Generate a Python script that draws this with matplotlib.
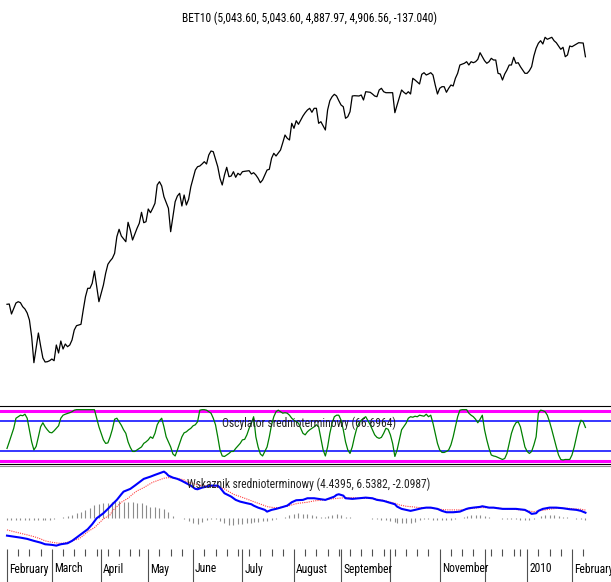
import numpy as np
import pandas as pd
import matplotlib
matplotlib.use("Agg")
import matplotlib.pyplot as plt
from matplotlib import font_manager

# ---------------- data: (trading session number from 2 Feb 2009, value) ----------------
first_session = "2009-02-02"
exchange_holidays = ["2009-04-20", "2009-05-01", "2009-11-30", "2009-12-01",
                     "2009-12-24", "2009-12-25", "2009-12-31", "2010-01-01"]
n_sessions = 259

price_points = [
    (0, 2431), (1, 2434), (2, 2334), (4, 2444), (5, 2457), (6, 2447), (7, 2407), (8, 2384), (9, 2344), (10, 2274),
    (11, 2107), (12, 1847), (13, 1994), (14, 2144), (15, 2014), (16, 1894), (17, 1854), (18, 1857), (19, 1867), (20, 1884),
    (21, 1867), (22, 2024), (23, 1944), (24, 2064), (25, 1984), (26, 2034), (27, 2007), (28, 2024), (29, 2074), (30, 2174),
    (31, 2217), (33, 2231), (34, 2374), (35, 2507), (36, 2591), (37, 2591), (38, 2641), (39, 2764), (40, 2607), (41, 2457),
    (43, 2624), (44, 2741), (45, 2831), (46, 2864), (47, 2891), (48, 2941), (49, 3107), (50, 3181), (51, 3114), (53, 3057),
    (54, 3251), (55, 3174), (56, 3074), (57, 3134), (58, 3191), (59, 3241), (60, 3351), (61, 3247), (62, 3257), (63, 3384),
    (64, 3347), (65, 3391), (66, 3441), (67, 3624), (68, 3657), (69, 3614), (70, 3507), (72, 3391), (73, 3157), (74, 3307),
    (75, 3457), (76, 3514), (77, 3541), (78, 3414), (79, 3524), (80, 3424), (81, 3481), (82, 3607), (84, 3774), (85, 3807),
    (86, 3814), (87, 3834), (88, 3857), (89, 3834), (90, 3924), (91, 3964), (92, 3957), (94, 3807), (95, 3691), (96, 3624),
    (97, 3724), (98, 3801), (99, 3707), (100, 3714), (101, 3757), (102, 3701), (103, 3741), (104, 3724), (105, 3757), (106, 3761),
    (108, 3767), (109, 3734), (110, 3747), (111, 3724), (112, 3691), (113, 3647), (114, 3674), (115, 3724), (116, 3774), (117, 3781),
    (118, 3891), (119, 3941), (120, 3914), (122, 3974), (123, 4047), (124, 4124), (125, 4091), (126, 4074), (127, 4241), (128, 4191),
    (129, 4267), (130, 4231), (132, 4314), (133, 4347), (134, 4374), (135, 4391), (136, 4351), (137, 4391), (138, 4391), (139, 4241),
    (140, 4257), (142, 4174), (143, 4374), (144, 4467), (145, 4507), (146, 4531), (147, 4514), (148, 4467), (149, 4424), (150, 4407),
    (151, 4291), (152, 4307), (153, 4357), (154, 4514), (155, 4517), (157, 4514), (158, 4524), (159, 4474), (160, 4557), (162, 4551),
    (163, 4534), (164, 4514), (165, 4507), (166, 4574), (167, 4591), (168, 4557), (169, 4547), (170, 4547), (172, 4547), (173, 4347),
    (174, 4424), (176, 4574), (177, 4551), (178, 4534), (179, 4557), (180, 4534), (181, 4691), (182, 4674), (184, 4634), (185, 4731),
    (186, 4747), (187, 4724), (188, 4734), (189, 4747), (190, 4724), (191, 4624), (192, 4534), (193, 4591), (194, 4607), (195, 4607),
    (196, 4551), (197, 4591), (198, 4624), (199, 4614), (200, 4691), (201, 4741), (202, 4824), (204, 4841), (205, 4857), (206, 4824),
    (207, 4857), (208, 4847), (209, 4857), (210, 4881), (211, 4947), (212, 4907), (213, 4867), (214, 4841), (215, 4857), (216, 4891),
    (217, 4874), (218, 4874), (219, 4741), (220, 4734), (221, 4674), (222, 4734), (223, 4774), (224, 4824), (225, 4824), (226, 4901),
    (227, 4841), (228, 4847), (229, 4807), (231, 4741), (232, 4741), (233, 4767), (234, 4807), (235, 4914), (236, 4991), (237, 5041),
    (238, 5067), (239, 5034), (240, 5101), (241, 5081), (243, 5101), (244, 5067), (245, 5047), (246, 5014), (247, 4981), (248, 5001),
    (249, 4907), (250, 4924), (251, 5014), (252, 5007), (254, 5034), (255, 5047), (257, 5043.60), (258, 4906.56),
]

osc_points = [
    (0, 25), (1, 38), (3, 65), (4, 85), (6, 91), (7, 90), (8, 93), (9, 85), (10, 62), (11, 38),
    (12, 22), (13, 29), (14, 48), (15, 68), (16, 76), (17, 68), (18, 62), (19, 57), (20, 56), (21, 60),
    (22, 65), (23, 70), (24, 85), (25, 91), (26, 93), (28, 96), (29, 98), (30, 101), (31, 102), (33, 102),
    (34, 102), (36, 102), (37, 102), (39, 102), (40, 85), (41, 68), (42, 55), (43, 42), (44, 35), (45, 36),
    (46, 48), (47, 63), (48, 83), (49, 85), (50, 78), (51, 71), (52, 62), (53, 55), (54, 38), (55, 27),
    (56, 19), (57, 19), (58, 22), (59, 25), (60, 28), (61, 35), (62, 38), (63, 42), (64, 48), (65, 45),
    (66, 55), (67, 72), (68, 80), (69, 85), (70, 68), (71, 48), (73, 28), (74, 14), (75, 10), (76, 22),
    (77, 35), (78, 48), (79, 56), (80, 58), (81, 62), (82, 65), (83, 70), (84, 72), (85, 78), (86, 101),
    (87, 102), (88, 102), (89, 101), (90, 98), (91, 95), (92, 85), (93, 72), (94, 48), (95, 22), (96, 10),
    (97, 9), (98, 12), (99, 15), (100, 19), (101, 19), (102, 25), (103, 30), (104, 35), (105, 42), (106, 43),
    (107, 52), (108, 65), (109, 75), (110, 88), (111, 48), (112, 28), (113, 14), (114, 10), (116, 28), (117, 48),
    (118, 72), (119, 88), (120, 98), (121, 101), (122, 98), (123, 95), (124, 96), (125, 95), (126, 91), (127, 85),
    (128, 81), (129, 78), (130, 75), (131, 65), (132, 55), (133, 52), (134, 58), (135, 62), (137, 68), (138, 72),
    (139, 68), (140, 45), (141, 22), (142, 10), (143, 28), (144, 55), (145, 75), (146, 88), (147, 91), (148, 91),
    (149, 81), (150, 62), (151, 38), (152, 22), (153, 15), (154, 28), (155, 48), (156, 65), (157, 75), (158, 81),
    (159, 85), (160, 88), (162, 72), (163, 62), (164, 52), (165, 47), (166, 45), (167, 47), (168, 55), (169, 65),
    (170, 63), (171, 52), (172, 35), (173, 9), (174, 22), (175, 42), (176, 62), (178, 75), (179, 85), (180, 88),
    (181, 87), (182, 89), (183, 88), (184, 91), (186, 89), (187, 93), (188, 88), (189, 91), (190, 75), (191, 55),
    (192, 35), (193, 22), (194, 17), (195, 17), (196, 19), (197, 22), (198, 32), (199, 48), (200, 68), (201, 88),
    (202, 101), (203, 102), (205, 102), (206, 95), (207, 91), (208, 88), (209, 83), (210, 76), (211, 83), (212, 91),
    (213, 62), (214, 42), (215, 25), (216, 12), (217, 10), (218, 9), (219, 7), (220, 5), (221, 3), (222, 5),
    (223, 15), (224, 35), (225, 55), (226, 68), (227, 76), (228, 78), (229, 68), (230, 48), (231, 28), (232, 19),
    (233, 15), (234, 19), (235, 32), (236, 48), (237, 95), (238, 101), (239, 100), (240, 98), (241, 91), (242, 78),
    (243, 62), (244, 45), (245, 28), (246, 12), (247, 3), (248, 2), (249, 3), (251, 3), (252, 12), (253, 28),
    (254, 48), (255, 68), (256, 81), (257, 78), (258, 66.6964),
]

macd_points = [
    (0, -13.9), (3, -14.7), (6, -15.5), (9, -16.5), (12, -18.1), (15, -19.5), (17, -20.8), (20, -21.3), (22, -21.9), (24, -20.8),
    (27, -20.0), (29, -18.1), (31, -15.5), (33, -12.8), (36, -8.8), (38, -4.8), (40, 0.0), (43, 4.0), (45, 7.5), (47, 11.2),
    (49, 14.7), (51, 19.2), (52, 21.3), (55, 23.5), (57, 26.1), (59, 28.8), (61, 31.5), (64, 33.3), (66, 34.7), (68, 36.0),
    (70, 37.3), (71, 36.0), (72, 34.1), (74, 32.5), (76, 31.5), (78, 29.9), (80, 28.0), (82, 26.1), (84, 23.5), (85, 23.2),
    (87, 24.5), (89, 25.3), (91, 26.1), (94, 26.1), (95, 24.5), (97, 20.0), (100, 17.3), (102, 14.7), (104, 13.3), (107, 12.0),
    (109, 11.2), (110, 10.1), (112, 8.5), (115, 6.7), (116, 5.3), (118, 6.7), (120, 7.5), (122, 8.5), (125, 10.1), (127, 12.8),
    (129, 14.4), (132, 14.7), (134, 16.0), (137, 16.0), (140, 15.2), (142, 14.7), (144, 16.0), (146, 17.3), (147, 18.7), (148, 19.2),
    (150, 18.1), (151, 16.0), (154, 15.5), (157, 16.0), (160, 16.5), (163, 16.0), (165, 14.7), (168, 13.9), (170, 12.8), (173, 11.2),
    (174, 9.3), (176, 7.5), (178, 6.7), (180, 5.9), (182, 6.7), (185, 8.0), (187, 8.5), (189, 8.5), (192, 7.5), (194, 5.9),
    (196, 4.8), (199, 4.8), (202, 5.3), (205, 7.5), (206, 8.0), (208, 8.5), (211, 9.1), (212, 9.6), (215, 8.5), (217, 8.5),
    (219, 8.0), (221, 7.5), (224, 7.5), (227, 7.5), (231, 6.7), (233, 4.8), (234, 3.5), (236, 4.0), (237, 5.9), (239, 7.5),
    (242, 8.5), (245, 8.5), (248, 8.0), (251, 7.2), (254, 6.7), (256, 5.9), (258, 4.4395),
]

signal_points = [
    (0, -9.3), (3, -10.7), (6, -12.0), (9, -13.3), (12, -14.7), (15, -16.5), (17, -18.1), (20, -19.2), (23, -20.0), (25, -20.0),
    (27, -19.2), (29, -18.1), (32, -16.5), (34, -13.9), (36, -10.7), (39, -7.5), (41, -4.0), (43, -0.5), (46, 2.7), (47, 5.9),
    (49, 9.3), (51, 12.8), (54, 16.0), (56, 19.2), (58, 21.9), (61, 24.5), (63, 26.7), (65, 28.8), (68, 30.7), (70, 32.0),
    (72, 32.5), (75, 32.0), (77, 31.5), (79, 30.7), (80, 29.3), (83, 28.0), (85, 26.7), (87, 26.1), (90, 25.9), (92, 25.3),
    (94, 25.3), (97, 23.5), (99, 21.3), (101, 19.2), (104, 17.3), (106, 16.0), (108, 14.7), (110, 13.3), (112, 12.0), (114, 10.7),
    (116, 9.3), (119, 8.5), (121, 8.5), (123, 9.1), (126, 10.1), (128, 11.2), (130, 12.0), (134, 12.8), (137, 13.9), (140, 14.4),
    (142, 14.9), (145, 15.5), (148, 16.0), (151, 16.5), (154, 16.5), (157, 16.0), (160, 16.0), (164, 15.5), (167, 14.7), (170, 13.3),
    (173, 12.0), (175, 10.7), (178, 9.6), (181, 9.1), (184, 8.5), (187, 8.5), (190, 8.0), (193, 7.2), (196, 6.7), (199, 6.7),
    (202, 6.7), (205, 7.2), (208, 8.0), (211, 8.5), (214, 8.5), (217, 8.5), (220, 8.0), (223, 7.5), (226, 7.2), (229, 6.7),
    (232, 5.9), (235, 5.3), (237, 5.9), (240, 6.7), (243, 7.5), (246, 8.0), (250, 8.0), (253, 7.5), (256, 7.2), (258, 6.5382),
]

hist_points = [
    (0, -1.6), (2, -1.6), (4, -1.6), (6, -1.6), (8, -1.6), (10, -1.6), (12, -1.6), (14, -1.6), (16, -1.6), (17, -1.6),
    (19, -1.6), (21, -0.5), (23, 0.0), (25, 0.8), (27, 1.6), (29, 2.7), (31, 4.0), (33, 5.3), (35, 6.7), (37, 8.5),
    (39, 10.7), (41, 11.5), (43, 12.0), (45, 12.5), (47, 13.3), (48, 13.9), (50, 13.9), (52, 13.3), (54, 13.3), (56, 12.8),
    (58, 12.5), (60, 12.0), (62, 10.7), (64, 9.3), (66, 8.8), (68, 8.0), (70, 7.5), (72, 4.8), (74, 2.1), (76, 0.5),
    (78, 0.0), (79, -0.8), (81, -2.1), (83, -4.0), (85, -4.8), (87, -2.7), (89, -1.3), (91, -0.8), (93, -0.5), (95, -2.1),
    (97, -4.0), (99, -5.3), (101, -5.3), (103, -4.8), (105, -4.3), (107, -4.0), (109, -3.5), (110, -3.2), (112, -2.7), (114, -2.1),
    (116, -2.1), (118, -1.3), (120, -0.5), (122, 0.5), (124, 1.3), (126, 2.7), (128, 3.5), (130, 4.0), (132, 3.7), (134, 3.2),
    (136, 2.9), (138, 2.1), (140, 1.3), (142, 1.3), (143, 1.6), (145, 2.7), (147, 3.2), (149, 2.7), (151, 1.3), (153, 0.8),
    (155, 0.5), (157, 0.5), (159, 0.5), (161, 0.3), (163, -0.5), (165, -0.8), (167, -1.3), (169, -1.6), (171, -2.1), (173, -2.7),
    (174, -3.5), (176, -3.7), (178, -3.7), (180, -3.5), (182, -2.7), (184, -1.3), (186, -0.8), (188, -0.8), (190, -1.1), (192, -1.3),
    (194, -1.6), (196, -1.3), (198, -1.1), (200, -0.5), (202, 0.0), (204, 0.8), (205, 2.1), (207, 2.7), (209, 2.7), (211, 2.4),
    (213, 1.6), (215, 0.8), (217, 0.5), (219, 0.3), (221, -0.5), (223, -0.5), (225, -0.8), (227, -0.8), (229, -1.1), (231, -1.3),
    (233, -1.6), (235, -0.8), (236, 0.5), (238, 1.6), (240, 2.4), (242, 2.7), (244, 2.7), (246, 2.1), (248, 1.3), (250, 0.8),
    (252, 0.3), (254, -0.5), (256, -0.8), (258, -1.0),
]

month_labels = ["February", "March", "April", "May", "June", "July", "August",
                "September", "", "November", "", "2010", "February"]

title_text = "BET10 (5,043.60, 5,043.60, 4,887.97, 4,906.56, -137.040)"
osc_text = "Oscylator srednioterminowy (66.6964)"
macd_text = "Wskaznik srednioterminowy (4.4395, 6.5382, -2.0987)"

price_s, price_v = zip(*price_points)
osc_s, osc_v = zip(*osc_points)
macd_s, macd_v = zip(*macd_points)
signal_s, signal_v = zip(*signal_points)
hist_s, hist_v = zip(*hist_points)

# ---------------- session calendar ----------------
days = pd.bdate_range(first_session, "2010-03-31")
days = days[~days.isin(pd.to_datetime(exchange_holidays))][:n_sessions]
month_idx = [i for i in range(n_sessions) if i == 0 or days[i].month != days[i - 1].month]
week_idx = [i for i in range(1, n_sessions)
            if days[i].isocalendar()[1] != days[i - 1].isocalendar()[1] and i not in month_idx]

# ---------------- font ----------------
def pick_font():
    names = {f.name for f in font_manager.fontManager.ttflist}
    for n in ["Liberation Sans Narrow", "Arial Narrow", "Roboto Condensed"]:
        if n in names:
            return font_manager.FontProperties(family=n)
    for f in font_manager.fontManager.ttflist:
        if "Sans" in f.name and "condensed" in str(f.stretch) and f.style == "normal" \
                and str(f.weight) in ("400", "normal"):
            return font_manager.FontProperties(fname=f.fname)
    return font_manager.FontProperties(family="Liberation Sans")


FP = pick_font()

W, H = 611.0, 582.0
fig = plt.figure(figsize=(W / 100, H / 100), dpi=100)


def rect(top, bottom):
    return [0.0, (H - bottom) / H, 1.0, (bottom - top) / H]


K = 2.242
X0 = 7.0
XLIM = (-X0 / K, (W - X0) / K)


def clean(ax):
    ax.set_xlim(XLIM)
    ax.set_xticks([])
    ax.set_yticks([])
    for sp in ax.spines.values():
        sp.set_visible(False)
    ax.patch.set_alpha(0)


# fit the font size so the title has the width seen in the chart
probe = fig.text(0, 0, title_text, fontproperties=FP.copy())
probe.set_fontsize(10)
fig.canvas.draw()
w10 = probe.get_window_extent(fig.canvas.get_renderer()).width
probe.remove()
FS = 10 * 256.0 / w10


def fp():
    p = FP.copy()
    p.set_size(FS)
    return p


# price panel
axp = fig.add_axes(rect(25, 400))
clean(axp)
axp.set_ylim(1474, 5224)
axp.plot(price_s, price_v, color="black", lw=0.9)
fig.text(309.5 / W, 1 - 18 / H, title_text, ha="center", va="center", fontproperties=fp(), color="black")

# oscillator panel
axo = fig.add_axes(rect(406, 464))
clean(axo)
axo.set_ylim(-5.96, 109.3)
for lvl in (100, 0):
    axo.axhline(lvl, color="#ff00ff", lw=2.2, zorder=1)
for lvl in (80, 20):
    axo.axhline(lvl, color="#0000ff", lw=1.1, zorder=1)
for side in ("top", "bottom"):
    axo.spines[side].set_visible(True)
    axo.spines[side].set_linewidth(0.8)
axo.plot(osc_s, osc_v, color="#008000", lw=0.9, zorder=3)
axo.text(308.5 / W, 1 - (423 - 406) / 58.0, osc_text, transform=axo.transAxes, ha="center",
         va="center", fontproperties=fp(), zorder=4, color="#222222")

# MACD panel
axm = fig.add_axes(rect(466, 548))
clean(axm)
axm.set_ylim(-23.8, 41.8)
axm.spines["top"].set_visible(True)
axm.spines["top"].set_color("#909090")
axm.spines["top"].set_linewidth(0.8)
axm.vlines(hist_s, 0, hist_v, color="#8c8c8c", lw=0.8, zorder=1)
axm.plot(signal_s, signal_v, color="#ff4040", lw=0.8, ls=(0, (1, 1)), zorder=2)
axm.plot(macd_s, macd_v, color="#0000ff", lw=1.5, zorder=3)
axm.text(308.3 / W, 1 - (484 - 466) / 82.0, macd_text, transform=axm.transAxes, ha="center",
         va="center", fontproperties=fp(), zorder=4, color="#222222")

# date axis
axd = fig.add_axes(rect(548, 582))
clean(axd)
axd.set_ylim(0, 1)
h = 34.0
axd.vlines(month_idx, 0, 1 - 1 / h, color="#505050", lw=0.8)
axd.vlines(week_idx, 1 - 8 / h, 1 - 1 / h, color="#505050", lw=0.8)
for i, lab in zip(month_idx, month_labels):
    if lab:
        axd.text(i + 2.0 / K, (582 - 569) / h, lab, ha="left", va="center", fontproperties=fp())

fig.savefig("out.png", dpi=100)
